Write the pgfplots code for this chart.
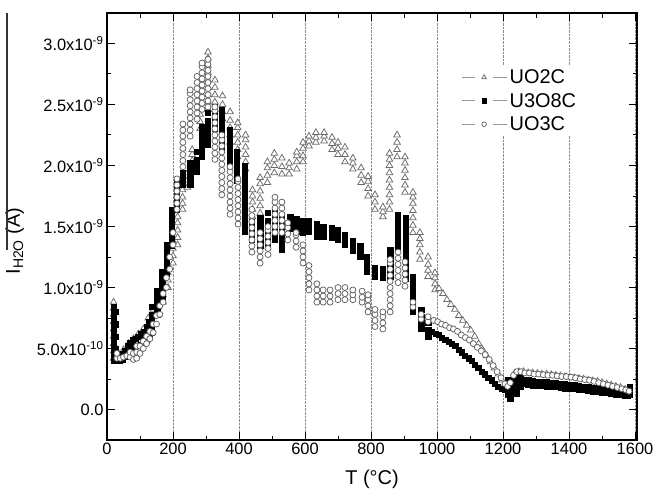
\documentclass[border=0pt]{standalone}
\usepackage{pgfplots}
\pgfplotsset{compat=1.18}
\usepackage{fontspec}
\setmainfont{Liberation Sans}
\begin{document}
\begin{tikzpicture}
\begin{axis}[
 scale only axis, width=530bp, height=427bp,
 xmin=0, xmax=1606, ymin=-0.25, ymax=3.25,
 xtick={0,200,...,1600}, minor x tick num=1,
 ytick={0,0.5,1.0,1.5,2.0,2.5,3.0}, minor y tick num=1,
 yticklabels={0.0,5.0x10\textsuperscript{-10},1.0x10\textsuperscript{-9},1.5x10\textsuperscript{-9},2.0x10\textsuperscript{-9},2.5x10\textsuperscript{-9},3.0x10\textsuperscript{-9}},
 /pgf/number format/assume math mode=true,
 /pgf/number format/1000 sep={},
 ticklabel style={font=\fontsize{16.5}{19}\selectfont},
 tick style={black, line width=1bp},
 major tick length=8bp, minor tick length=4.5bp,
 axis line style={line width=1.2bp},
 xmajorgrids, grid style={densely dotted, black!45, line width=0.6bp},
 xlabel={T (°C)},
 xlabel style={at={(axis description cs:0.5,-0.105)}, anchor=base, font=\fontsize{20}{22}\selectfont},
 ylabel={I\textsubscript{H2O} (A)},
 ylabel style={at={(axis description cs:-0.174,0.466)}, anchor=center, font=\fontsize{20}{22}\selectfont},
 legend style={at={(0.663,0.877)}, anchor=north west, draw=none, fill=white, font=\fontsize{20}{22}\selectfont, row sep=4bp, nodes={inner sep=2bp}},
 legend cell align=left,
]
\addlegendimage{legend image code/.code={
  \draw[draw=black!40, line width=1.1bp, solid] (0bp,0bp) -- (13bp,0bp) (31bp,0bp) -- (45bp,0bp);
  \draw[draw=black!58, fill=white, line width=0.75bp, solid] (22bp,2.6bp) -- (19.75bp,-1.3bp) -- (24.25bp,-1.3bp) -- cycle;
}}
\addlegendentry{UO2C}
\addlegendimage{legend image code/.code={
  \draw[draw=black!40, line width=1.1bp, solid] (0bp,0bp) -- (13bp,0bp) (31bp,0bp) -- (45bp,0bp);
  \fill[fill=black] (19.8bp,-2.2bp) rectangle (24.2bp,2.2bp);
}}
\addlegendentry{U3O8C}
\addlegendimage{legend image code/.code={
  \draw[draw=black!40, line width=1.1bp, solid] (0bp,0bp) -- (13bp,0bp) (31bp,0bp) -- (45bp,0bp);
  \draw[draw=black!62, fill=white, line width=0.75bp, solid] (22bp,0bp) circle (2.3bp);
}}
\addlegendentry{UO3C}
% UO2C
\addplot[forget plot, only marks, mark=triangle*, mark size=3.8bp, mark options={draw=black!58, fill=white, line width=0.75bp}] coordinates {
(20,0.42)(20,0.48)(20,0.54)(20,0.60)(20,0.66)(20,0.72)(20,0.78)(20,0.83)(20,0.88)
(35,0.42)(35,0.46)(50,0.44)(50,0.49)(65,0.48)(65,0.54)(80,0.52)(80,0.58)(95,0.56)(95,0.62)
(110,0.60)(110,0.66)(125,0.65)(125,0.70)(125,0.75)(140,0.70)(140,0.76)(140,0.82)
(155,0.78)(155,0.84)(155,0.90)(170,0.88)(170,0.94)(170,1.00)
(185,1.00)(185,1.06)(185,1.12)(185,1.18)(200,1.20)(200,1.26)(200,1.32)(200,1.38)
(214,1.35)(214,1.41)(214,1.47)(214,1.53)(214,1.58)
(229,1.64)(229,1.69)(229,1.74)(229,1.80)(244,1.82)(244,1.88)(244,1.94)
(258,1.99)(258,2.04)(258,2.09)(258,2.13)
(282,2.30)(282,2.36)(282,2.42)(282,2.48)(282,2.55)(282,2.62)(282,2.70)
(306,2.46)(306,2.52)(306,2.58)(306,2.64)(306,2.70)(306,2.76)(306,2.82)(306,2.88)(306,2.93)
(327,2.46)(327,2.52)(327,2.58)(327,2.64)(327,2.70)
(350,2.38)(350,2.44)(350,2.50)(350,2.57)
(373,2.19)(373,2.25)(373,2.31)(373,2.37)(373,2.44)
(396,2.07)(396,2.13)(396,2.19)(396,2.25)(396,2.31)(396,2.35)
(420,1.97)(420,2.03)(420,2.09)(420,2.15)(420,2.21)(420,2.25)
(441,1.58)(441,1.64)(441,1.70)(441,1.75)(441,1.80)
(464,1.61)(464,1.67)(464,1.73)(464,1.79)(464,1.85)(464,1.90)
(486,1.86)(486,1.92)(486,1.98)(486,2.03)
(507,1.94)(507,2.00)(507,2.05)(507,2.10)
(530,1.93)(530,1.99)(530,2.06)
(552,1.93)(552,1.98)(552,2.02)
(575,1.97)(575,2.03)(575,2.08)(575,2.11)
(594,2.03)(594,2.08)(594,2.14)(594,2.19)
(612,2.16)(612,2.20)(612,2.24)
(633,2.19)(633,2.23)(633,2.27)
(658,2.20)(658,2.24)(658,2.27)
(682,2.13)(682,2.18)(682,2.23)
(700,2.09)(700,2.14)(700,2.19)
(721,2.03)(721,2.09)(721,2.15)
(745,1.97)(745,2.02)(745,2.06)
(770,1.86)(770,1.92)(770,1.98)
(791,1.75)(791,1.81)(791,1.87)(791,1.91)
(812,1.64)(812,1.70)(812,1.76)
(836,1.58)(836,1.62)(836,1.66)
(856,1.64)(856,1.70)(856,1.76)(856,1.82)(856,1.88)(856,1.94)(856,2.00)(856,2.05)(856,2.10)
(879,2.07)(879,2.13)(879,2.19)(879,2.25)
(903,1.78)(903,1.84)(903,1.90)(903,1.96)(903,2.02)(903,2.07)
(927,1.45)(927,1.51)(927,1.57)(927,1.63)(927,1.69)(927,1.74)(927,1.78)
(948,1.23)(948,1.29)(948,1.35)(948,1.40)(948,1.45)
(973,1.09)(973,1.14)(973,1.19)(973,1.25)
(994,0.98)(994,1.03)(994,1.08)(994,1.12)
(1006,0.99)(1018,0.95)(1030,0.90)(1042,0.86)(1054,0.82)(1066,0.77)(1078,0.73)(1090,0.69)
(1102,0.65)(1114,0.60)(1126,0.54)(1138,0.49)(1150,0.44)(1162,0.39)(1174,0.34)(1186,0.29)
(1197,0.24)(1207,0.21)(1216,0.20)(1226,0.24)(1236,0.30)(1248,0.31)(1262,0.31)(1276,0.30)
(1290,0.30)(1304,0.295)(1318,0.29)(1332,0.29)(1346,0.285)(1360,0.28)(1374,0.275)(1388,0.27)
(1402,0.265)(1416,0.26)(1430,0.255)(1444,0.25)(1458,0.24)(1472,0.235)(1486,0.23)(1500,0.22)
(1514,0.21)(1528,0.20)(1542,0.19)(1556,0.18)(1570,0.165)(1582,0.15)
};
% U3O8C
\addplot[forget plot, only marks, mark=square*, mark size=2.6bp, mark options={draw=black, fill=black}] coordinates {
(20,0.40)(20,0.44)(20,0.49)(20,0.54)(20,0.59)(20,0.64)(20,0.69)(20,0.74)(20,0.79)(20,0.84)
(25,0.40)(25,0.50)(25,0.60)(25,0.70)(25,0.80)
(30,0.40)(30,0.43)(38,0.40)(38,0.44)(46,0.41)(46,0.46)(54,0.43)(54,0.48)
(62,0.46)(62,0.52)(70,0.48)(70,0.55)(78,0.50)(78,0.57)(86,0.52)(86,0.58)
(94,0.52)(94,0.60)(102,0.53)(102,0.62)(110,0.55)(110,0.60)(110,0.64)
(120,0.57)(120,0.62)(120,0.68)(128,0.60)(128,0.66)(128,0.72)
(136,0.63)(136,0.68)(136,0.73)(136,0.78)(136,0.84)
(152,0.78)(152,0.83)(152,0.88)(152,0.93)(152,0.97)
(167,0.90)(167,0.95)(167,1.00)(167,1.05)(167,1.10)(167,1.13)
(182,1.11)(182,1.16)(182,1.21)(182,1.26)(182,1.31)(182,1.35)
(197,1.34)(197,1.39)(197,1.44)(197,1.49)(197,1.54)(197,1.59)(197,1.64)
(212,1.64)(212,1.69)(212,1.74)(212,1.79)(212,1.84)(212,1.87)
(230,1.84)(230,1.89)(230,1.94)
(252,1.84)(252,1.89)(252,1.94)(252,1.99)(252,2.02)
(273,1.95)(273,2.00)(273,2.05)(273,2.11)
(288,2.07)(288,2.12)(288,2.17)(288,2.22)(288,2.27)(288,2.32)
(306,2.17)(306,2.22)(306,2.27)(306,2.32)(306,2.37)(306,2.43)
(327,2.30)(327,2.35)(327,2.40)(327,2.45)(327,2.48)
(348,2.13)(348,2.18)(348,2.23)(348,2.28)(348,2.33)(348,2.38)(348,2.43)(348,2.46)
(373,2.00)(373,2.05)(373,2.10)(373,2.15)(373,2.20)(373,2.25)(373,2.29)
(394,1.88)(394,1.93)(394,1.98)(394,2.03)(394,2.08)(394,2.11)
(418,1.46)(418,1.51)(418,1.56)(418,1.61)(418,1.66)(418,1.71)(418,1.76)(418,1.81)(418,1.86)(418,1.91)(418,1.96)(418,2.00)
(439,1.39)(439,1.44)(439,1.49)(439,1.54)
(464,1.34)(464,1.39)(464,1.44)(464,1.49)(464,1.54)(464,1.57)
(488,1.35)(488,1.40)(488,1.45)(488,1.50)(488,1.55)(488,1.61)
(509,1.39)(509,1.44)(509,1.49)(509,1.54)(509,1.59)(509,1.61)
(530,1.31)(530,1.36)(530,1.41)(530,1.46)(530,1.51)(530,1.56)(530,1.60)
(555,1.48)(555,1.53)(555,1.58)(576,1.46)(576,1.51)(576,1.56)
(594,1.45)(594,1.50)(594,1.55)(612,1.46)(612,1.51)(612,1.55)
(636,1.42)(636,1.47)(636,1.52)(655,1.42)(655,1.46)(655,1.50)
(682,1.41)(682,1.45)(682,1.49)(700,1.39)(700,1.43)(700,1.47)
(721,1.35)(721,1.39)(721,1.43)(745,1.30)(745,1.34)(745,1.38)
(767,1.25)(767,1.29)(767,1.34)(788,1.13)(788,1.18)(788,1.22)(788,1.25)
(812,1.09)(812,1.13)(812,1.16)(836,1.08)(836,1.12)(836,1.15)
(858,1.09)(858,1.14)(858,1.19)(858,1.24)(858,1.29)(858,1.31)
(882,1.30)(882,1.35)(882,1.40)(882,1.45)(882,1.50)(882,1.55)(882,1.60)
(906,1.07)(906,1.12)(906,1.17)(906,1.22)(906,1.27)(906,1.32)(906,1.37)(906,1.42)(906,1.47)(906,1.52)(906,1.57)
(927,0.80)(927,0.85)(927,0.90)(927,0.95)(927,1.00)(927,1.05)(927,1.09)
(952,0.66)(952,0.71)(952,0.76)(952,0.82)
(973,0.60)(973,0.65)(973,0.71)
(985,0.64)(995,0.62)(1005,0.61)(1015,0.59)(1025,0.57)(1035,0.555)(1045,0.54)(1055,0.52)
(1065,0.49)(1075,0.47)(1085,0.44)(1095,0.42)(1105,0.40)(1115,0.37)(1125,0.34)(1135,0.31)
(1145,0.29)(1155,0.26)(1165,0.24)(1175,0.21)(1185,0.19)(1195,0.17)(1205,0.16)
(1213,0.12)(1213,0.16)(1213,0.20)(1213,0.24)(1222,0.09)(1222,0.13)(1222,0.17)(1222,0.21)
(1232,0.15)(1232,0.19)(1232,0.23)(1232,0.27)(1242,0.13)(1242,0.17)(1242,0.21)(1242,0.25)
(1252,0.19)(1252,0.23)(1252,0.27)
(1262,0.245)(1262,0.21)(1276,0.24)(1276,0.205)(1290,0.235)(1290,0.20)(1304,0.23)(1304,0.20)
(1318,0.23)(1318,0.195)(1332,0.225)(1332,0.19)(1346,0.22)(1346,0.19)(1360,0.215)(1360,0.185)
(1374,0.21)(1374,0.18)(1388,0.21)(1388,0.175)(1402,0.205)(1402,0.17)(1416,0.20)(1416,0.17)
(1430,0.195)(1430,0.165)(1444,0.19)(1444,0.16)(1458,0.185)(1458,0.155)(1472,0.18)(1472,0.15)
(1486,0.175)(1486,0.145)(1500,0.17)(1500,0.14)(1514,0.165)(1514,0.135)(1528,0.16)(1528,0.13)
(1542,0.155)(1542,0.125)(1556,0.15)(1556,0.12)(1568,0.145)(1568,0.115)(1578,0.14)(1578,0.11)
(1585,0.12)(1585,0.155)(1585,0.19)
};
% UO3C
\addplot[forget plot, only marks, mark=*, mark size=3bp, mark options={draw=black!62, fill=white, line width=0.75bp}] coordinates {
(30,0.42)(30,0.46)(40,0.42)(50,0.43)(60,0.44)(70,0.43)(70,0.47)(80,0.41)(80,0.46)
(90,0.42)(90,0.47)(90,0.52)(100,0.46)(100,0.52)(110,0.50)(110,0.56)(120,0.54)(120,0.60)
(130,0.58)(130,0.64)(140,0.63)(140,0.70)(150,0.70)(150,0.77)(160,0.78)(160,0.85)
(170,0.88)(170,0.95)(180,1.00)(180,1.08)(190,1.15)(190,1.25)(200,1.35)(200,1.45)
(212,1.64)(212,1.69)(212,1.74)(212,1.79)(212,1.84)(212,1.89)
(230,1.99)(230,2.04)(230,2.09)(230,2.14)(230,2.19)(230,2.24)(230,2.29)(230,2.34)
(252,2.24)(252,2.29)(252,2.34)(252,2.39)(252,2.44)(252,2.49)(252,2.54)(252,2.59)(252,2.62)
(273,2.38)(273,2.43)(273,2.48)(273,2.53)(273,2.58)(273,2.63)(273,2.68)(273,2.73)
(288,2.46)(288,2.51)(288,2.56)(288,2.61)(288,2.66)(288,2.71)(288,2.76)(288,2.81)(288,2.84)
(306,2.48)(306,2.53)(306,2.58)(306,2.63)(306,2.68)(306,2.73)(306,2.78)(306,2.83)(306,2.87)
(327,2.05)(327,2.10)(327,2.15)(327,2.20)(327,2.25)(327,2.30)(327,2.35)(327,2.40)(327,2.45)(327,2.48)
(348,1.76)(348,1.81)(348,1.86)(348,1.91)(348,1.96)(348,2.01)(348,2.06)(348,2.11)(348,2.16)(348,2.21)(348,2.25)
(373,1.60)(373,1.65)(373,1.70)(373,1.75)(373,1.80)(373,1.85)(373,1.90)(373,1.95)(373,1.99)
(397,1.52)(397,1.57)(397,1.62)(397,1.67)(397,1.72)(397,1.77)(397,1.82)(397,1.87)(397,1.89)
(439,1.29)(439,1.34)(439,1.39)(439,1.44)(439,1.49)(439,1.54)(439,1.59)(439,1.64)
(464,1.20)(464,1.25)(464,1.30)(464,1.35)(464,1.40)(464,1.45)
(488,1.27)(488,1.32)(488,1.37)(488,1.42)(488,1.47)(488,1.50)
(509,1.45)(509,1.50)(509,1.55)(509,1.60)(509,1.65)(509,1.70)(509,1.74)
(530,1.45)(530,1.50)(530,1.55)(530,1.60)(530,1.65)(530,1.70)
(548,1.39)(548,1.44)(548,1.49)(548,1.53)
(573,1.33)(573,1.38)(573,1.43)(573,1.45)
(594,1.20)(594,1.25)(594,1.30)(594,1.35)
(612,0.98)(612,1.03)(612,1.08)(612,1.13)(612,1.18)
(636,0.88)(636,0.93)(636,0.98)(636,1.03)
(655,0.88)(655,0.93)(655,0.98)(676,0.88)(676,0.93)(676,0.98)
(700,0.90)(700,0.95)(700,1.00)(721,0.90)(721,0.95)(721,1.00)
(745,0.90)(745,0.94)(745,0.98)(773,0.88)(773,0.92)(773,0.97)
(791,0.80)(791,0.85)(791,0.90)(791,0.94)
(812,0.68)(812,0.73)(812,0.78)(812,0.82)
(836,0.66)(836,0.71)(836,0.76)(836,0.80)
(858,0.80)(858,0.85)(858,0.90)(858,0.95)(858,1.00)(858,1.05)(858,1.10)(858,1.15)(858,1.20)(858,1.23)
(882,1.04)(882,1.09)(882,1.14)(882,1.19)(882,1.24)(882,1.29)
(903,1.01)(903,1.06)(903,1.11)(903,1.16)(903,1.21)
(927,0.84)(927,0.88)(952,0.74)(952,0.78)(973,0.72)(973,0.76)
(990,0.73)(1002,0.72)(1014,0.70)(1026,0.69)(1038,0.67)(1050,0.66)(1062,0.64)(1074,0.61)
(1086,0.59)(1098,0.57)(1110,0.54)(1122,0.51)(1134,0.48)(1146,0.45)(1158,0.41)(1170,0.36)
(1182,0.31)(1194,0.26)(1206,0.21)(1214,0.19)(1222,0.22)(1232,0.28)(1242,0.31)(1254,0.31)
(1266,0.30)(1280,0.30)(1294,0.29)(1308,0.29)(1322,0.285)(1336,0.28)(1350,0.28)(1364,0.275)
(1378,0.27)(1392,0.27)(1406,0.265)(1420,0.26)(1434,0.25)(1448,0.245)(1462,0.24)(1476,0.23)
(1490,0.22)(1504,0.21)(1518,0.20)(1532,0.19)(1546,0.18)(1560,0.17)(1572,0.16)(1582,0.15)
};
\end{axis}
\draw[line width=1.2bp, black!80] (current axis.south west) ++(-100bp,190bp) -- ++(0bp,237bp);
\pgfresetboundingbox
\useasboundingbox (current axis.south west) ++(-107bp,-51bp) rectangle ++(656bp,491bp);
\end{tikzpicture}
\end{document}
